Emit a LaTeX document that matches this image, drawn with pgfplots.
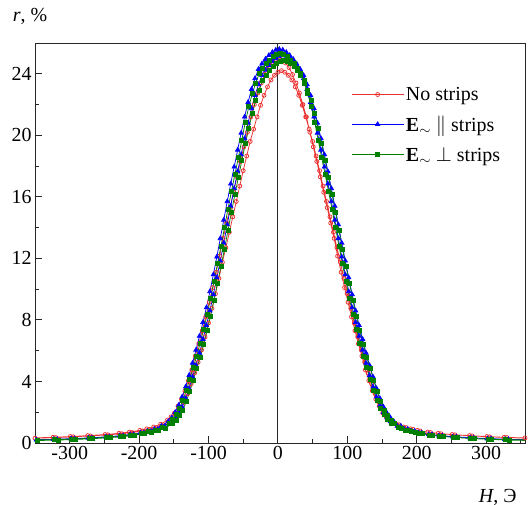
\documentclass[border=0pt]{standalone}
\usepackage{fontspec}
\setmainfont{Liberation Serif}
\usepackage{pgfplots}
\pgfplotsset{compat=1.18}
\definecolor{cred}{RGB}{235,50,50}
\definecolor{cblue}{RGB}{0,0,255}
\definecolor{cgreen}{RGB}{0,128,0}
\pgfplotsset{
  legend image code/.code={\draw[mark repeat=2, mark phase=2, #1] plot coordinates {(0bp,0bp) (26bp,0bp) (52bp,0bp)};},
}
\begin{document}
\begin{tikzpicture}
\begin{axis}[
  scale only axis, width=490bp, height=400bp,
  xmin=-350, xmax=356, ymin=0, ymax=26,
  axis line style={line width=0.9bp, black!85},
  xtick={-300,-200,...,300}, minor xtick={-250,-150,...,350},
  xticklabels={-300,-200,-100,0,100,200,300},
  ytick={0,4,...,24}, minor ytick={2,6,...,26},
  yticklabels={0,4,8,12,16,20,24},
  tick align=inside, xtick pos=left, ytick pos=left,
  major tick length=7bp, minor tick length=4.5bp,
  every tick/.style={line width=0.9bp, black!85},
  tick label style={font=\fontsize{20}{24}\selectfont},
  every axis y label/.style={at={(rel axis cs:0,1)}, anchor=base, xshift=-5bp, yshift=21bp, font=\fontsize{20}{24}\selectfont},
  every axis x label/.style={at={(rel axis cs:1,0)}, anchor=base east, xshift=-5bp, yshift=-59bp, font=\fontsize{20}{24}\selectfont},
  ylabel={\textit{r}, \%},
  xlabel={\textit{H}, Э},
  legend style={draw=none, fill=none, at={(0.645,0.895)}, anchor=north west,
    font=\fontsize{20}{24}\selectfont, row sep=10bp, inner sep=0pt,
    cells={anchor=west}},
]
\addplot[forget plot, black!85, line width=0.9bp] coordinates {(0,0) (0,26)};
\addplot[color=cred, line width=0.75bp, mark=o, mark size=2bp, mark options={solid, fill=white}] coordinates {
(-354,0.33)(-324,0.37)(-299,0.42)(-274,0.48)(-249,0.55)(-229,0.63)(-214,0.71)(-199,0.82)(-189,0.92)(-179,1.04)(-169,1.22)(-159,1.50)(-154,1.70)(-149,1.95)(-144,2.40)(-139,2.85)(-134,3.40)(-129,4.05)(-124,4.75)(-119,5.65)(-114,6.45)(-109,7.30)(-104,8.20)(-99,9.15)(-94,10.10)(-89,11.10)(-84,12.15)(-79,13.30)(-74,14.30)(-69,15.30)(-64,16.30)(-59,17.30)(-54,18.30)(-49,19.25)(-44,20.20)(-39,21.20)(-34,22.00)(-29,22.75)(-24,23.40)(-19,23.95)(-14,24.40)(-9,24.70)(-4,24.90)(1,25.00)(6,24.90)(11,24.70)(16,24.40)(21,23.95)(26,23.40)(31,22.75)(36,22.00)(41,21.20)(46,20.20)(51,19.25)(56,18.30)(61,17.30)(66,16.30)(71,15.30)(76,14.30)(81,13.30)(86,12.15)(91,11.10)(96,10.10)(101,9.15)(106,8.20)(111,7.30)(116,6.45)(121,5.65)(126,4.75)(131,4.05)(136,3.40)(141,2.85)(146,2.40)(151,1.95)(156,1.70)(161,1.50)(171,1.22)(181,1.04)(191,0.92)(201,0.82)(216,0.71)(231,0.63)(251,0.55)(276,0.48)(301,0.42)(326,0.37)(356,0.33)
(360,0.31)(330,0.35)(305,0.40)(280,0.46)(255,0.53)(235,0.60)(220,0.68)(205,0.78)(195,0.88)(185,1.00)(175,1.18)(165,1.45)(160,1.65)(155,1.90)(150,2.20)(145,2.65)(140,3.20)(135,3.85)(130,4.55)(125,5.25)(120,6.05)(115,6.90)(110,7.80)(105,8.75)(100,9.70)(95,10.70)(90,11.75)(85,12.70)(80,13.70)(75,14.70)(70,15.70)(65,16.70)(60,17.70)(55,18.65)(50,19.60)(45,20.40)(40,21.20)(35,21.95)(30,22.60)(25,23.15)(20,23.60)(15,23.90)(10,24.10)(5,24.20)(0,24.10)(-5,23.90)(-10,23.60)(-15,23.15)(-20,22.60)(-25,21.95)(-30,21.20)(-35,20.40)(-40,19.60)(-45,18.65)(-50,17.70)(-55,16.70)(-60,15.70)(-65,14.70)(-70,13.70)(-75,12.70)(-80,11.75)(-85,10.70)(-90,9.70)(-95,8.75)(-100,7.80)(-105,6.90)(-110,6.05)(-115,5.25)(-120,4.55)(-125,3.85)(-130,3.20)(-135,2.65)(-140,2.20)(-145,1.90)(-150,1.65)(-155,1.45)(-165,1.18)(-175,1.00)(-185,0.88)(-195,0.78)(-210,0.68)(-225,0.60)(-245,0.53)(-270,0.46)(-295,0.40)(-320,0.35)(-350,0.31)
};
\addlegendentry{No strips}
\addplot[color=cblue, line width=0.75bp, mark=triangle*, mark size=2.5bp, mark options={solid}] coordinates {
(-353,0.21)(-323,0.24)(-298,0.28)(-273,0.33)(-248,0.40)(-228,0.47)(-213,0.55)(-198,0.67)(-188,0.77)(-178,0.90)(-168,1.10)(-158,1.40)(-153,1.65)(-148,2.00)(-143,2.45)(-138,3.00)(-133,3.65)(-128,4.40)(-123,5.20)(-118,6.05)(-113,6.95)(-108,7.85)(-103,8.80)(-98,9.85)(-93,10.95)(-88,12.10)(-83,13.30)(-78,14.50)(-73,15.70)(-68,16.85)(-63,17.95)(-58,19.05)(-53,20.15)(-48,21.20)(-43,22.15)(-38,23.00)(-33,23.70)(-28,24.30)(-23,24.65)(-18,24.95)(-13,25.20)(-8,25.40)(-3,25.55)(2,25.60)(7,25.55)(12,25.40)(17,25.20)(22,24.95)(27,24.65)(32,24.30)(37,23.70)(42,23.00)(47,22.15)(52,21.20)(57,20.15)(62,19.05)(67,17.95)(72,16.85)(77,15.70)(82,14.50)(87,13.30)(92,12.10)(97,10.95)(102,9.85)(107,8.80)(112,7.85)(117,6.95)(122,6.05)(127,5.20)(132,4.40)(137,3.65)(142,3.00)(147,2.45)(152,2.00)(157,1.65)(162,1.40)(172,1.10)(182,0.90)(192,0.77)(202,0.67)(217,0.55)(232,0.47)(252,0.40)(277,0.33)(302,0.28)(327,0.24)(357,0.21)
(362,0.21)(332,0.24)(307,0.28)(282,0.33)(257,0.40)(237,0.47)(222,0.55)(207,0.67)(197,0.77)(187,0.90)(177,1.10)(167,1.40)(162,1.65)(157,1.95)(152,2.35)(147,2.90)(142,3.55)(137,4.30)(132,5.05)(127,5.85)(122,6.75)(117,7.65)(112,8.60)(107,9.65)(102,10.75)(97,11.85)(92,13.00)(87,14.20)(82,15.40)(77,16.55)(72,17.65)(67,18.75)(62,19.80)(57,20.80)(52,21.75)(47,22.60)(42,23.30)(37,23.90)(32,24.25)(27,24.55)(22,24.80)(17,25.00)(12,25.15)(7,25.20)(2,25.15)(-3,25.00)(-8,24.80)(-13,24.55)(-18,24.25)(-23,23.90)(-28,23.30)(-33,22.60)(-38,21.75)(-43,20.80)(-48,19.80)(-53,18.75)(-58,17.65)(-63,16.55)(-68,15.40)(-73,14.20)(-78,13.00)(-83,11.85)(-88,10.75)(-93,9.65)(-98,8.60)(-103,7.65)(-108,6.75)(-113,5.85)(-118,5.05)(-123,4.30)(-128,3.55)(-133,2.90)(-138,2.35)(-143,1.95)(-148,1.65)(-153,1.40)(-163,1.10)(-173,0.90)(-183,0.77)(-193,0.67)(-208,0.55)(-223,0.47)(-243,0.40)(-268,0.33)(-293,0.28)(-318,0.24)(-348,0.21)
};
\addlegendentry{\textbf{E}$_\sim$ $\|$ strips}
\addplot[color=cgreen, line width=0.75bp, mark=square*, mark size=2bp, mark options={solid}] coordinates {
(-352,0.20)(-322,0.22)(-297,0.26)(-272,0.30)(-247,0.37)(-227,0.44)(-212,0.52)(-197,0.63)(-187,0.73)(-177,0.85)(-167,1.02)(-157,1.30)(-152,1.55)(-147,1.85)(-142,2.25)(-137,2.75)(-132,3.40)(-127,4.15)(-122,4.90)(-117,5.65)(-112,6.50)(-107,7.40)(-102,8.35)(-97,9.40)(-92,10.50)(-87,11.65)(-82,12.80)(-77,14.00)(-72,15.20)(-67,16.35)(-62,17.45)(-57,18.55)(-52,19.70)(-47,20.85)(-42,21.85)(-37,22.70)(-32,23.40)(-27,24.00)(-22,24.35)(-17,24.65)(-12,24.90)(-7,25.10)(-2,25.25)(3,25.30)(8,25.25)(13,25.10)(18,24.90)(23,24.65)(28,24.35)(33,24.00)(38,23.40)(43,22.70)(48,21.85)(53,20.85)(58,19.70)(63,18.55)(68,17.45)(73,16.35)(78,15.20)(83,14.00)(88,12.80)(93,11.65)(98,10.50)(103,9.40)(108,8.35)(113,7.40)(118,6.50)(123,5.65)(128,4.90)(133,4.15)(138,3.40)(143,2.75)(148,2.25)(153,1.85)(158,1.55)(163,1.30)(173,1.02)(183,0.85)(193,0.73)(203,0.63)(218,0.52)(233,0.44)(253,0.37)(278,0.30)(303,0.26)(328,0.22)(358,0.20)
(363,0.16)(333,0.19)(308,0.23)(283,0.28)(258,0.35)(238,0.42)(223,0.50)(208,0.62)(198,0.72)(188,0.85)(178,0.98)(168,1.25)(163,1.50)(158,1.80)(153,2.15)(148,2.70)(143,3.35)(138,4.10)(133,4.85)(128,5.55)(123,6.40)(118,7.30)(113,8.25)(108,9.30)(103,10.40)(98,11.50)(93,12.60)(88,13.80)(83,15.00)(78,16.15)(73,17.25)(68,18.35)(63,19.45)(58,20.45)(53,21.40)(48,22.25)(43,22.95)(38,23.55)(33,23.90)(28,24.20)(23,24.45)(18,24.65)(13,24.80)(8,24.85)(3,24.80)(-2,24.65)(-7,24.45)(-12,24.20)(-17,23.90)(-22,23.55)(-27,22.95)(-32,22.25)(-37,21.40)(-42,20.45)(-47,19.45)(-52,18.35)(-57,17.25)(-62,16.15)(-67,15.00)(-72,13.80)(-77,12.60)(-82,11.50)(-87,10.40)(-92,9.30)(-97,8.25)(-102,7.30)(-107,6.40)(-112,5.55)(-117,4.85)(-122,4.10)(-127,3.35)(-132,2.70)(-137,2.15)(-142,1.80)(-147,1.50)(-152,1.25)(-162,0.98)(-172,0.85)(-182,0.72)(-192,0.62)(-207,0.50)(-222,0.42)(-242,0.35)(-267,0.28)(-292,0.23)(-317,0.19)(-347,0.16)
};
\addlegendentry{\textbf{E}$_\sim$ $\perp$ strips}
\end{axis}
\pgfresetboundingbox
\path[use as bounding box] ([shift={(-35bp,-62bp)}]current axis.south west) rectangle ([shift={(3bp,43bp)}]current axis.north east);
\end{tikzpicture}
\end{document}
